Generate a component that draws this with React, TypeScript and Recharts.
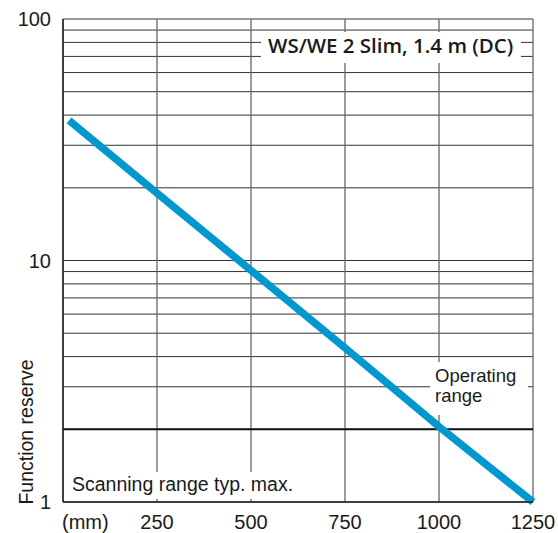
import { LineChart, Line, XAxis, YAxis, CartesianGrid, ReferenceLine } from "recharts";

document.body.style.margin = "0";

// scanning distance in mm and function reserve
const distances = [16, 250, 500, 750, 1000, 1250];
const reserve = [38, 19, 9.1, 4.35, 2.05, 1];

const xTicks = [0, 250, 500, 750, 1000, 1250];
const yTicks = [1, 2, 3, 4, 5, 6, 7, 8, 9, 10, 20, 30, 40, 50, 60, 70, 80, 90, 100];
const yLabels = [1, 10, 100];
const operatingLimit = 2;

const data = distances.map((d, i) => ({ distance: d, reserve: reserve[i] }));

const FONT = "'Liberation Sans', Arial, sans-serif";
const INK = "#1a1a1a";

const XTick = ({ x, y, payload }: any) => {
  if (payload.value === 0) {
    return (
      <text x={x - 1} y={y + 27} textAnchor="start" fontSize={20} fill={INK} fontFamily={FONT}>
        (mm)
      </text>
    );
  }
  return (
    <text x={x} y={y + 27} textAnchor="middle" fontSize={20} fill={INK} fontFamily={FONT}>
      {payload.value}
    </text>
  );
};

const YTick = ({ x, y, payload }: any) => {
  if (!yLabels.includes(payload.value)) return <g />;
  return (
    <text x={x - 12} y={y + 7} textAnchor="end" fontSize={20} fill={INK} fontFamily={FONT}>
      {payload.value}
    </text>
  );
};

export default function App() {
  return (
    <div style={{ position: "relative", width: 558, height: 533, background: "#fff" }}>
      <LineChart width={558} height={533} data={data} margin={{ top: 19, right: 25, left: 0, bottom: 0 }}>
        <CartesianGrid vertical={false} stroke="#333" strokeWidth={1} />
        <CartesianGrid horizontal={false} stroke="#666" strokeWidth={1.3} />
        <XAxis
          dataKey="distance"
          type="number"
          domain={[0, 1250]}
          ticks={xTicks}
          height={31}
          tickSize={0}
          tickMargin={0}
          tickLine={false}
          axisLine={{ stroke: "#222", strokeWidth: 1.5 }}
          tick={<XTick />}
        />
        <YAxis
          type="number"
          scale="log"
          domain={[1, 100]}
          ticks={yTicks}
          width={63}
          tickSize={0}
          tickMargin={0}
          tickLine={false}
          interval={0}
          axisLine={{ stroke: "#222", strokeWidth: 1.5 }}
          tick={<YTick />}
        />
        <ReferenceLine y={operatingLimit} stroke="#111" strokeWidth={2} />
        <Line
          type="linear"
          dataKey="reserve"
          stroke="#0098cf"
          strokeWidth={7.5}
          dot={false}
          isAnimationActive={false}
        />
      </LineChart>
      <svg
        width={558}
        height={533}
        style={{ position: "absolute", left: 0, top: 0, pointerEvents: "none" }}
        fontFamily={FONT}
        fill={INK}
      >
        <rect x={261} y={32} width={260} height={31} fill="#fff" />
        <text x={268} y={53} fontSize={20.5} fontWeight={600} fontFamily="'Open Sans', sans-serif">
          WS/WE 2 Slim, 1.4 m (DC)
        </text>
        <rect x={430} y={362} width={98} height={53} fill="#fff" />
        <text x={435} y={382} fontSize={18.5}>Operating</text>
        <text x={435} y={402} fontSize={18.5}>range</text>
        <rect x={64} y={472} width={236} height={27} fill="#fff" />
        <text x={72} y={491} fontSize={19.5}>Scanning range typ. max.</text>
        <text x={33} y={432} fontSize={19.5} textAnchor="middle" transform="rotate(-90 33 432)">
          Function reserve
        </text>
      </svg>
    </div>
  );
}
